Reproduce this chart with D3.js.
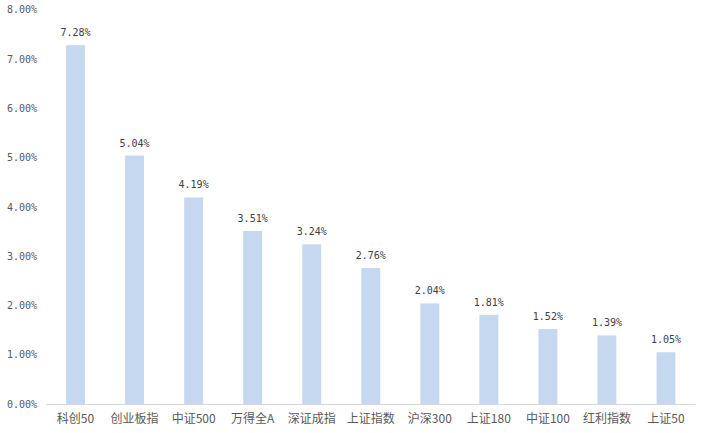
<!DOCTYPE html>
<html><head><meta charset="utf-8">
<script src="https://cdn.jsdelivr.net/npm/d3@7"></script>
<style>body{margin:0;background:#fff}</style>
</head><body>
<svg id="c" width="704" height="433"></svg>
<script>
const categories = ["科创50","创业板指","中证500","万得全A","深证成指","上证指数","沪深300","上证180","中证100","红利指数","上证50"];
const values = [7.28,5.04,4.19,3.51,3.24,2.76,2.04,1.81,1.52,1.39,1.05];
const yTicks = [0,1,2,3,4,5,6,7,8];

const svg = d3.select("#c");
const m = {left:46, right:8.5, top:9.7, bottom:29};
const W = 704, H = 433;
const x = d3.scaleBand().domain(categories).range([m.left, W - m.right]).paddingInner(0.68).paddingOuter(0.34);
const y = d3.scaleLinear().domain([0,8]).range([404, 9.7]);
const numFont = "'DejaVu Sans Mono', monospace";
const cjkFont = "'Noto Sans CJK SC', sans-serif";

// y axis labels
const yAxis = d3.axisLeft(y).tickValues(yTicks).tickFormat(d => d.toFixed(2) + "%").tickSize(0).tickPadding(0);
const gy = svg.append("g").attr("transform", "translate(37,0)").call(yAxis);
gy.select(".domain").remove();
gy.selectAll("text").attr("fill","#595959").style("font-family", numFont).style("font-size","10px");

// bars
svg.append("g").selectAll("rect").data(values).join("rect")
  .attr("x", (d,i) => x(categories[i]))
  .attr("width", x.bandwidth())
  .attr("y", d => y(d))
  .attr("height", d => y(0) - y(d))
  .attr("fill", "#c5d8f0");

// x axis
const xAxis = d3.axisBottom(x).tickSize(0).tickPadding(10);
const gx = svg.append("g").attr("transform", "translate(0,404)").call(xAxis);
gx.select(".domain").attr("stroke","#d9d9d9").attr("stroke-width",1).attr("d", `M${m.left},0.5H${W - m.right}`);
gx.selectAll("text").attr("fill","#595959").style("font-family", cjkFont).style("font-size","12px");

// value labels
svg.append("g").selectAll("text").data(values).join("text")
  .attr("x", (d,i) => x(categories[i]) + x.bandwidth()/2)
  .attr("y", d => y(d) - 9)
  .attr("text-anchor","middle")
  .attr("fill","#404040")
  .style("font-family", numFont).style("font-size","10px")
  .text(d => d.toFixed(2) + "%");
</script>
</body></html>
